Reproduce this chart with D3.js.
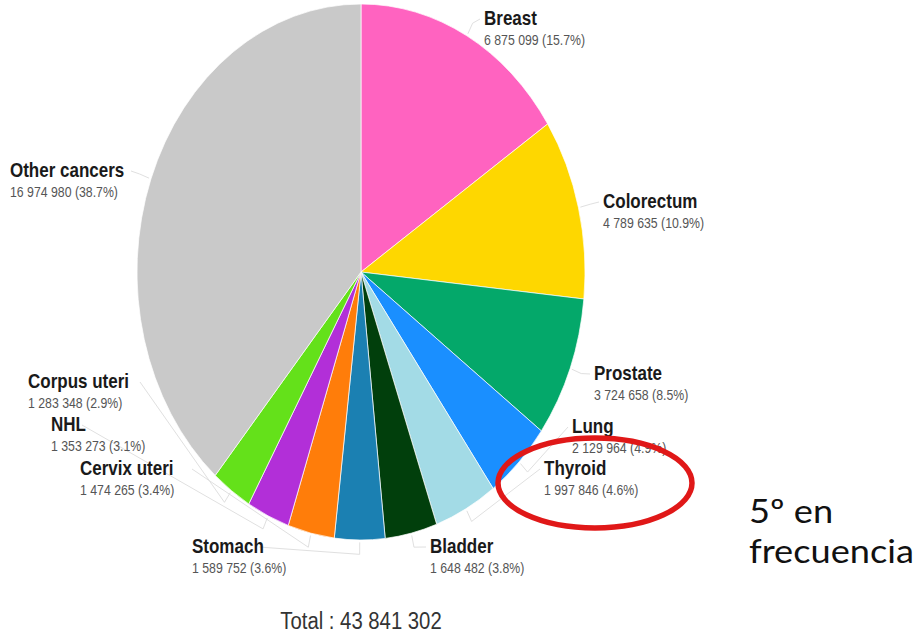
<!DOCTYPE html>
<html>
<head>
<meta charset="utf-8">
<script src="https://cdn.jsdelivr.net/npm/d3@7"></script>
<style>
  html, body { margin: 0; padding: 0; background: #fff; }
  svg { display: block; }
  .name { font-family: "Liberation Sans", Arial, sans-serif; font-weight: bold; font-size: 17px; fill: #1a1a1a; }
  .val { font-family: "Liberation Sans", Arial, sans-serif; font-size: 12.3px; fill: #555; }
</style>
</head>
<body>
<svg id="chart" width="917" height="637"></svg>
<script>
// 5-year prevalence, both sexes, all ages
const categories = ["Breast", "Colorectum", "Prostate", "Lung", "Thyroid", "Bladder",
  "Stomach", "Cervix uteri", "NHL", "Corpus uteri", "Other cancers"];
const cases = [6875099, 4789635, 3724658, 2129964, 1997846, 1648482,
  1589752, 1474265, 1353273, 1283348, 16974980];
const shares = [15.7, 10.9, 8.5, 4.9, 4.6, 3.8, 3.6, 3.4, 3.1, 2.9, 38.7];
const colors = ["#ff63c0", "#fed700", "#04a86a", "#1a8fff", "#a3dbe6", "#013f0c",
  "#1b80b2", "#ff7d0a", "#b22fd8", "#64e11a", "#c9c9c9"];
const totalLabel = "Total : 43 841 302";
const noteLines = ["5º en", "frecuencia"];

// label anchor (left edge, baseline of the name line)
const labelPos = {
  "Breast": [484, 25], "Colorectum": [603, 208], "Prostate": [594, 380],
  "Lung": [572, 433], "Thyroid": [544, 475], "Bladder": [430, 553],
  "Stomach": [192, 553], "Cervix uteri": [80, 475], "NHL": [51, 431],
  "Corpus uteri": [28, 388], "Other cancers": [10, 177]
};

const svg = d3.select("#chart");
const cx = 361, cy = 272, r = 224, sy = 268 / 224;
const fmt = v => d3.format(",")(v).replace(/,/g, " ");

const pie = d3.pie().sort(null).value(d => d.v);
const data = categories.map((c, i) => ({ c, v: cases[i], p: shares[i], col: colors[i] }));
const arcs = pie(data);
const arc = d3.arc().innerRadius(0).outerRadius(r);

// text stretched vertically the same way as the pie
function stretchedText(parent, x, y, cls, str) {
  return parent.append("text").attr("class", cls)
    .attr("transform", `translate(${x},${y}) scale(1,${sy})`).text(str);
}

// leader lines
const lines = svg.append("g").attr("fill", "none").attr("stroke", "#e0e0e0").attr("stroke-width", 1);
arcs.forEach(a => {
  const m = (a.startAngle + a.endAngle) / 2;
  const pt = rr => [cx + Math.sin(m) * rr, cy - Math.cos(m) * rr * sy];
  const p0 = pt(r + 2), p1 = pt(r + 12);
  const [lx, ly] = labelPos[a.data.c];
  const right = Math.sin(m) > 0;
  const w = a.data.c.length * 9;
  const p2 = right ? [lx - 4, ly - 6] : [lx + w + 4, ly - 6];
  lines.append("path").attr("d", d3.line()([p0, p1, p2]));
});

const g = svg.append("g").attr("transform", `translate(${cx},${cy}) scale(1,${sy})`);
g.selectAll("path").data(arcs).join("path")
  .attr("d", arc)
  .attr("fill", d => d.data.col)
  .attr("stroke", "#ffffff")
  .attr("stroke-width", 0.7)
  .attr("vector-effect", "non-scaling-stroke");

// labels
const lab = svg.append("g");
data.forEach(d => {
  const [x, y] = labelPos[d.c];
  stretchedText(lab, x, y, "name", d.c);
  stretchedText(lab, x, y + 20, "val", `${fmt(d.v)} (${d.p}%)`);
});

// highlight around the fifth most frequent
svg.append("ellipse")
  .attr("cx", 595).attr("cy", 483).attr("rx", 97).attr("ry", 45)
  .attr("fill", "none").attr("stroke", "#e01818").attr("stroke-width", 5.5);

stretchedText(svg, cx, 629, "total", totalLabel)
  .attr("text-anchor", "middle")
  .style("font-family", "'Liberation Sans', Arial, sans-serif")
  .style("font-size", "20.3px").style("fill", "#333");

// side note: two lines, widened so the second line spans ~165px
const note = svg.append("g");
const noteTexts = noteLines.map((t, i) =>
  note.append("text").attr("x", 0).attr("y", 523 + i * 40)
    .style("font-family", "Lato, sans-serif")
    .style("font-size", "33px").style("fill", "#111").text(t));
const wide = noteTexts[1].node().getComputedTextLength();
note.attr("transform", `translate(749,0) scale(${165 / wide},1)`);
</script>
</body>
</html>
